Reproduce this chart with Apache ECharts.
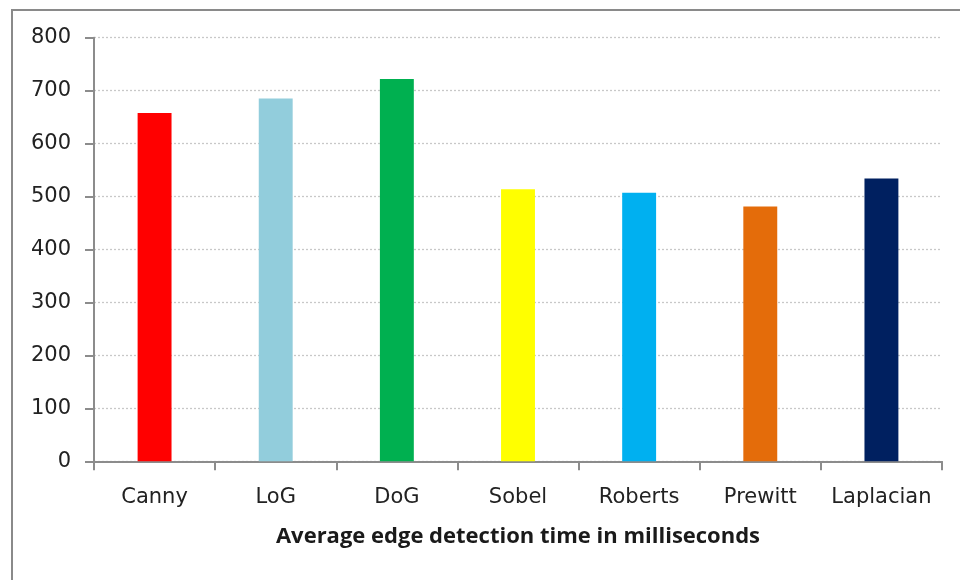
<!DOCTYPE html>
<html><head><meta charset="utf-8">
<script src="https://cdn.jsdelivr.net/npm/echarts@6/dist/echarts.min.js"></script>
<style>html,body{margin:0;padding:0;background:#fff}#c{width:960px;height:580px}</style>
</head><body><div id="c"></div>
<script>
const categories = ["Canny","LoG","DoG","Sobel","Roberts","Prewitt","Laplacian"];
const values = [658, 685, 722, 514, 507, 481, 534];
const colors = ["#FF0000","#92CDDC","#00B050","#FFFF00","#00B0F0","#E46C0A","#002060"];
const yTicks = [0,100,200,300,400,500,600,700,800];
const xTitle = "Average edge detection time in milliseconds";

const chart = echarts.init(document.getElementById('c'), null, {renderer:'canvas'});
chart.setOption({
  animation:false,
  backgroundColor:'#fff',
  graphic:[{type:'rect',shape:{x:12,y:10,width:980,height:600},style:{fill:'none',stroke:'#8a8a8a',lineWidth:2},silent:true}],
  grid:{left:94,right:18,top:37.7,bottom:118.7,containLabel:false},
  xAxis:{type:'category',data:categories,
    name:xTitle,nameLocation:'middle',nameGap:64,
    nameTextStyle:{fontFamily:'Open Sans',fontWeight:'bold',fontSize:22,color:'#1a1a1a'},
    axisLine:{lineStyle:{color:'#8c8c8c',width:2}},
    axisTick:{show:true,interval:0,alignWithLabel:false,length:9,lineStyle:{color:'#8c8c8c',width:2}},
    axisLabel:{interval:0,margin:26,fontFamily:'DejaVu Sans',fontSize:21,color:'#222'}},
  yAxis:{type:'value',min:yTicks[0],max:yTicks[yTicks.length-1],interval:100,
    axisLine:{show:true,lineStyle:{color:'#8c8c8c',width:2}},
    axisTick:{show:true,length:9,lineStyle:{color:'#8c8c8c',width:2}},
    axisLabel:{margin:23,fontFamily:'DejaVu Sans',fontSize:21,color:'#222'},
    splitLine:{lineStyle:{color:'#c8c8c8',type:[2,2],width:1.3}}},
  series:[{type:'bar',barWidth:'28%',
    data:values.map((v,i)=>({value:v,itemStyle:{color:colors[i]}}))}]
});
</script></body></html>
